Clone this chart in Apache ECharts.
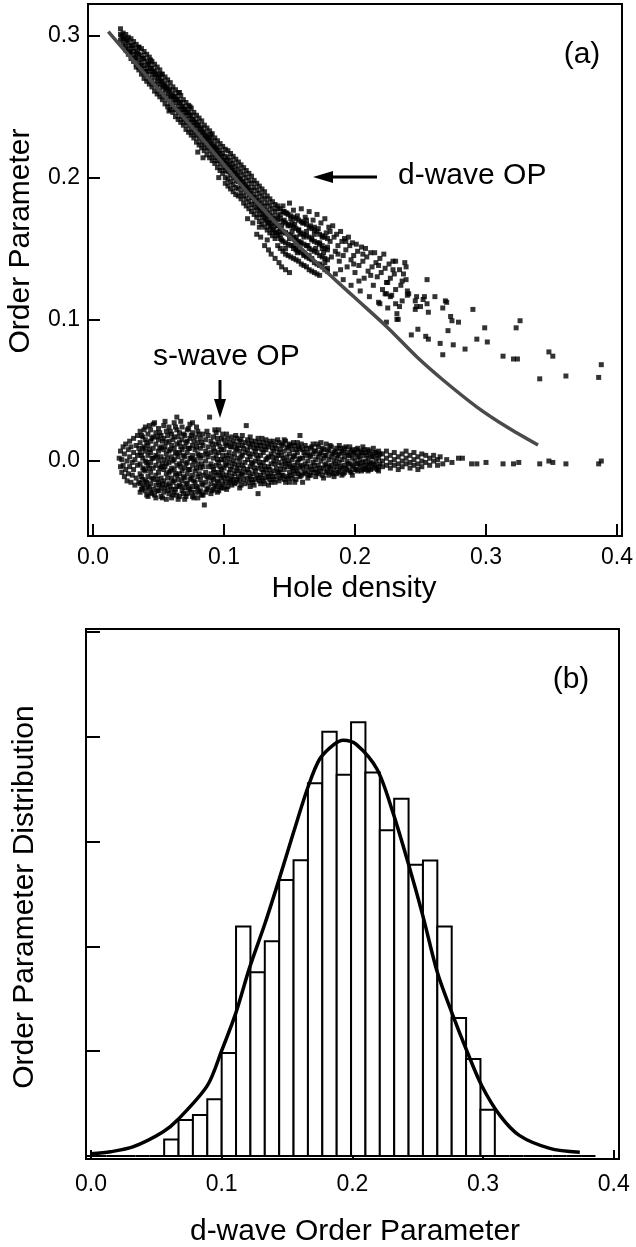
<!DOCTYPE html>
<html><head><meta charset="utf-8">
<script src="https://cdn.jsdelivr.net/npm/echarts@6/dist/echarts.min.js"></script>
<style>html,body{margin:0;padding:0;background:#fff}#c{width:636px;height:1247px}</style>
</head><body><div id="c"></div>
<script>
// ---------- Panel (a) data ----------
const xTicksA = [0, 0.1, 0.2, 0.3, 0.4];
const yTicksA = [0, 0.1, 0.2, 0.3];
// dense part of the d-wave band, read column by column: [x, [y values]]
const dwaveCols = [
[.021,[.305,.301,.297]],[.023,[.302,.298,.294]],[.025,[.301,.297,.293,.290]],[.027,[.299,.295,.291,.287]],[.029,[.298,.293,.289,.284]],[.031,[.296,.291,.287,.282]],[.033,[.294,.289,.285,.280,.278]],[.035,[.292,.287,.283,.278,.276]],[.037,[.291,.286,.281,.277,.273]],[.039,[.289,.284,.279,.274,.270]],
[.041,[.287,.282,.277,.273,.268]],[.043,[.285,.280,.275,.270,.266]],[.045,[.282,.277,.273,.268,.264]],[.047,[.280,.275,.271,.266,.261]],[.049,[.278,.273,.268,.264,.259]],[.051,[.276,.271,.266,.261,.257]],[.053,[.273,.268,.264,.259,.255]],[.055,[.271,.266,.262,.257,.252]],[.057,[.269,.264,.259,.255,.250]],[.059,[.267,.262,.257,.252,.248]],
[.061,[.264,.259,.255,.250,.246]],[.063,[.262,.257,.253,.248,.243]],[.065,[.260,.255,.250,.246,.241]],[.067,[.258,.253,.248,.243,.239]],[.069,[.255,.250,.246,.241,.237]],[.071,[.253,.248,.244,.239,.234]],[.073,[.251,.246,.241,.237,.232]],[.075,[.249,.244,.239,.234,.230]],[.077,[.246,.241,.237,.232,.228]],[.079,[.244,.239,.235,.230,.225]],
[.081,[.242,.237,.232,.228,.223]],[.083,[.240,.235,.230,.225,.221]],[.085,[.237,.232,.228,.223,.219]],[.087,[.235,.230,.226,.221,.216]],[.089,[.233,.228,.223,.219,.214]],[.091,[.231,.226,.221,.216,.212]],[.093,[.228,.223,.219,.214,.210]],[.095,[.226,.221,.217,.212,.207]],[.097,[.224,.219,.214,.210,.205]],[.099,[.222,.217,.212,.207,.203]],
[.101,[.220,.215,.210,.205,.200,.196]],[.103,[.219,.214,.209,.204,.199,.194]],[.105,[.217,.212,.207,.202,.197,.192]],[.107,[.215,.210,.205,.200,.195,.190]],[.109,[.213,.208,.203,.198,.193,.188]],[.111,[.211,.206,.201,.197,.192,.187]],[.113,[.209,.204,.199,.194,.189,.185]],[.115,[.207,.202,.197,.192,.187,.182]],[.117,[.205,.200,.195,.190,.185,.180]],[.119,[.203,.198,.193,.188,.183,.178]],
[.121,[.201,.196,.191,.186,.181,.176]],[.123,[.198,.193,.188,.184,.179,.174]],[.125,[.196,.191,.186,.182,.177,.172]],[.127,[.194,.189,.184,.179,.174,.169]],[.129,[.192,.187,.182,.177,.172,.167]],[.131,[.190,.185,.180,.175,.170,.165]],[.133,[.187,.182,.177,.173,.168,.163]],[.135,[.185,.180,.175,.170,.165,.161]],[.137,[.183,.178,.173,.168,.163,.159]],[.139,[.181,.176,.171,.166,.161,.157]],
[.141,[.180,.173,.166,.159,.152]],[.143,[.178,.171,.164,.157,.150]],[.145,[.176,.169,.162,.155,.148]],[.147,[.175,.168,.161,.154,.146]],[.149,[.174,.167,.160,.153,.145]],[.151,[.173,.166,.159,.152,.144]],[.153,[.172,.165,.158,.150,.143]],[.155,[.171,.164,.156,.149,.142]],[.157,[.170,.163,.155,.148,.141]],[.159,[.169,.161,.154,.147,.139]],
[.161,[.168,.160,.153,.145,.138]],[.163,[.167,.159,.152,.144,.137]],[.165,[.165,.158,.150,.143,.135]],[.167,[.164,.157,.149,.142,.134]],[.169,[.163,.155,.148,.140,.133]],[.171,[.162,.154,.147,.139,.132]],[.173,[.160,.153,.145,.138,.131]],[.175,[.159,.152,.144,.137]],[.177,[.158,.150,.143,.135]],[.179,[.157,.149,.142,.134]]
];
// individually read d-wave points (band interior, spread and sparse tail)
const dwavePts = [
[.022,.300],[.024,.298],[.026,.297],[.028,.288],[.030,.293],[.032,.284],[.034,.288],[.036,.279],[.038,.284],[.040,.275],[.042,.280],[.044,.277],[.046,.275],[.048,.273],[.050,.270],[.052,.268],[.054,.265],[.056,.263],[.058,.261],[.060,.258],
[.035,.292],[.044,.283],[.052,.273],[.058,.247],[.066,.260],[.074,.250],[.080,.218],[.084,.214],[.090,.230],[.096,.200],
[.062,.257],[.064,.255],[.066,.253],[.068,.250],[.070,.248],[.072,.246],[.074,.244],[.076,.241],[.078,.239],[.080,.237],[.082,.234],[.084,.232],[.086,.229],[.088,.227],[.090,.224],[.092,.222],[.094,.220],[.096,.217],[.098,.215],[.100,.212],
[.102,.212],[.104,.209],[.106,.207],[.108,.204],[.110,.202],[.112,.199],[.114,.197],[.116,.194],[.118,.192],[.120,.189],[.122,.186],[.124,.183],[.126,.180],[.128,.177],[.130,.174],[.132,.171],[.134,.168],[.136,.166],[.138,.163],[.140,.161],
[.118,.171],[.122,.168],[.125,.160],[.128,.158],[.131,.152],[.134,.149],[.136,.146],[.139,.143],[.142,.140],[.144,.137],[.147,.135],[.150,.133],[.127,.165],[.133,.156],
[.141,.170],[.141,.178],[.142,.162],[.143,.174],[.144,.166],[.144,.156],[.145,.180],[.146,.170],[.147,.161],[.147,.150],[.148,.175],[.149,.166],[.150,.157],[.150,.182],[.151,.171],[.152,.162],[.153,.152],[.153,.177],[.154,.167],[.155,.158],[.156,.147],[.156,.173],[.157,.163],[.158,.154],[.159,.178],[.160,.168],[.161,.158],[.161,.146],[.162,.172],[.163,.162],[.164,.152],[.165,.176],[.166,.166],[.167,.156],[.167,.143],[.168,.170],[.169,.160],[.170,.150],[.171,.174],[.172,.164],[.173,.154],[.173,.139],[.174,.168],[.175,.158],[.176,.147],[.177,.171],[.178,.161],[.179,.151],[.179,.136],[.180,.165],[.181,.155],[.182,.144],[.183,.166],[.184,.158],[.185,.148],[.185,.132],[.186,.160],[.187,.152],[.188,.141],[.189,.162],[.190,.155],[.191,.145],[.191,.128],[.192,.157],[.193,.149],[.194,.137],[.195,.158],[.196,.152],[.197,.142],[.197,.124],[.198,.154],[.199,.145],[.200,.133],[.201,.153],[.202,.148],[.203,.138],[.204,.120],[.205,.151],[.206,.141],[.207,.129],[.208,.150],[.209,.144],[.210,.134],[.211,.116],[.212,.147],[.213,.137],[.214,.124],[.215,.147],[.216,.140],[.217,.130],[.218,.112],[.219,.143],[.220,.133],[.221,.121],[.222,.146],[.223,.136],[.224,.126],[.225,.108],[.226,.139],[.227,.129],[.228,.117],[.229,.141],[.230,.132],[.231,.121],[.232,.104],[.234,.135],[.235,.124],[.236,.113],[.238,.140],[.239,.128],[.240,.117],
[.146,.176],[.152,.168],[.158,.160],[.163,.170],[.169,.165],[.175,.150],[.181,.162],[.187,.146],[.193,.155],[.199,.139],[.206,.146],[.212,.131],[.218,.138],[.224,.118],[.229,.135],[.236,.127],[.143,.160],[.155,.150],[.165,.145],[.177,.140],[.189,.135],[.203,.127],
[.231,.141],[.239,.137],[.255,.128],[.237,.132],[.247,.116],[.253,.116],[.261,.116],[.269,.113],[.246,.107],[.250,.109],[.256,.105],[.267,.108],[.273,.102],[.274,.099],[.290,.107],[.279,.098],[.271,.092],[.299,.094],[.326,.099],[.323,.094],[.293,.086],[.301,.084],[.284,.079],[.275,.082],[.265,.083],[.267,.075],[.254,.088],[.256,.086],[.248,.093],[.243,.089],[.313,.074],[.321,.072],[.324,.072],[.348,.077],[.351,.074],[.341,.058],[.361,.060],[.388,.068],[.386,.059],[.232,.100],[.233,.100],[.224,.098],[.231,.111],[.234,.109],[.223,.118],[.227,.116],[.219,.111],[.240,.120],[.241,.118],[.225,.126],[.246,.113],[.252,.114],[.255,.111],[.247,.109],[.270,.112]
];
const swaveCols = [
[.020,[.002]],[.021,[-.004,.007]],[.022,[-.008,.001]],[.023,[.010,-.003]],[.024,[-.011,.005]],[.025,[.012,-.006]],[.026,[.000,-.014]],[.027,[.008,-.009]],[.028,[.014,.003,-.004]],[.029,[-.015,.010]],[.030,[-.001,-.010]],[.031,[.016,.006,-.006]],[.032,[-.017,.001]],[.033,[.011,-.012]],[.034,[.018,.004,-.003]],[.035,[-.015,.009]],
[.036,[.021,.013,.006,-.002,-.009,-.016,-.022]],[.038,[.017,.009,.002,-.005,-.013,-.019]],[.040,[.024,.015,.007,.000,-.007,-.014,-.021]],[.042,[.019,.011,.004,-.003,-.011,-.018,-.025]],[.044,[.022,.014,.006,-.001,-.008,-.016,-.022]],[.046,[.026,.017,.009,.002,-.005,-.013,-.020]],[.047,[.027,-.024]],[.048,[.020,.012,.004,-.003,-.010,-.017,-.026]],[.050,[.023,.015,.007,.000,-.008,-.015,-.021]],[.052,[.018,.010,.003,-.004,-.012,-.019,-.025]],[.054,[.025,.016,.008,.001,-.006,-.014,-.022]],[.056,[.021,.013,.005,-.002,-.009,-.017,-.027]],[.058,[.024,.014,.007,-.001,-.008,-.016,-.023]],[.060,[.019,.011,.003,-.005,-.012,-.020,-.026]],[.062,[.027,.017,.009,.001,-.006,-.014,-.022]],[.064,[.031,.022,.012,.005,-.003,-.010,-.018,-.024]],[.066,[.020,.013,.006,-.002,-.009,-.017,-.025]],[.068,[.024,.015,.008,.000,-.007,-.014,-.021]],[.070,[.018,.010,.003,-.005,-.012,-.019,-.027]],[.072,[.022,.014,.006,-.001,-.009,-.016,-.023]],[.074,[.026,.016,.009,.002,-.006,-.013,-.020]],[.076,[.027,.020,.011,.004,-.003,-.010,-.018,-.025]],[.078,[.017,.008,.001,-.007,-.015,-.022]],[.080,[.021,.013,.005,-.002,-.011,-.019,-.026]],[.082,[.016,.009,.002,-.005,-.013,-.021]],[.084,[.019,.011,.004,-.004,-.010,-.017,-.024]],[.085,[-.031]],[.086,[.015,.007,.000,-.008,-.015,-.022]],[.088,[.018,.010,.003,-.004,-.012,-.019]],[.089,[.031]],[.090,[.014,.006,-.002,-.009,-.016,-.023]],[.092,[.017,.009,.002,-.006,-.013,-.020]],[.094,[.020,.012,.004,-.003,-.010,-.018]],[.096,[.022,.013,.006,-.001,-.008,-.015,-.021]],[.098,[.016,.008,.001,-.006,-.012,-.019]],
[.037,[.018,.004,-.011,-.020]],[.039,[.022,.010,-.006,-.017]],[.041,[.013,-.001,-.015,-.024]],[.043,[.025,.008,-.005,-.019]],[.045,[.016,.002,-.012,-.023]],[.049,[.017,.003,-.013,-.021]],[.051,[.020,.009,-.005,-.017]],[.053,[.014,-.002,-.016,-.026]],[.055,[.028,.010,-.004,-.019]],[.057,[.018,.002,-.012,-.021]],[.059,[.021,.008,-.007,-.018]],[.061,[.015,.000,-.015,-.024]],[.063,[.024,.006,-.009,-.020]],[.065,[.017,.003,-.013,-.027]],[.067,[.028,.010,-.004,-.018]],[.069,[.019,.004,-.011,-.023]],[.071,[.013,-.002,-.016,-.025]],[.073,[.023,.009,-.006,-.019]],[.075,[.018,.002,-.012,-.022]],[.077,[.014,.000,-.014,-.026]],[.079,[.024,.010,-.005,-.018]],[.081,[.019,.004,-.009,-.022]],[.083,[.013,-.002,-.016,-.024]],[.087,[.021,.005,-.011,-.020]],[.091,[.012,-.004,-.012,-.021]],[.093,[.022,.007,-.008,-.017]],[.095,[.016,.001,-.014,-.022]],[.097,[.010,-.004,-.010,-.018]],[.099,[.019,.004,-.009,-.016]],
[.100,[.015,.008,.001,-.005,-.012,-.019]],[.102,[.019,.011,.004,-.003,-.010,-.020]],[.104,[.013,.006,-.001,-.008,-.015]],[.106,[.017,.010,.003,-.004,-.011,-.017]],[.108,[.012,.005,-.002,-.009,-.016]],[.110,[.016,.009,.002,-.005,-.013]],[.112,[.014,.007,.000,-.007,-.014,-.019]],[.114,[.018,.011,.004,-.003,-.010]],[.116,[.013,.006,-.001,-.008,-.016]],[.117,[.025]],[.118,[.015,.008,.001,-.006,-.012]],[.120,[.017,.010,.003,-.004,-.011,-.018]],[.122,[.012,.005,-.002,-.009,-.015]],[.124,[.014,.007,.000,-.007,-.013]],[.126,[.016,.009,.002,-.005,-.012,-.023]],[.128,[.011,.004,-.003,-.010,-.016]],[.130,[.013,.006,-.001,-.008,-.014]],[.132,[.015,.008,.001,-.006,-.012]],[.134,[.010,.003,-.004,-.011,-.017]],[.136,[.012,.005,-.002,-.009,-.015]],[.138,[.014,.007,.000,-.007,-.013]],[.140,[.009,.002,-.005,-.011]],[.142,[.013,.006,-.001,-.008,-.014]],[.144,[.011,.004,-.003,-.010]],[.146,[.015,.007,.000,-.006,-.013]],[.148,[.010,.003,-.004,-.011]],[.150,[.012,.005,-.002,-.008,-.015]],[.152,[.008,.001,-.005,-.012]],[.154,[.011,.004,-.003,-.009,-.015]],[.156,[.013,.006,-.001,-.007]],[.158,[.018,.009,.002,-.004,-.011]],
[.101,[.012,-.002,-.015]],[.103,[.016,.002,-.012,-.018]],[.105,[.010,-.006,-.014]],[.107,[.014,.000,-.013]],[.109,[.018,.008,-.007,-.015]],[.111,[.011,-.003,-.011]],[.113,[.015,.003,-.009,-.017]],[.115,[.009,-.005,-.013]],[.119,[.012,.005,-.008,-.015]],[.121,[.014,-.001,-.013]],[.123,[.009,-.005,-.017]],[.125,[.011,.004,-.010]],[.127,[.013,-.001,-.014]],[.129,[.016,.008,-.006,-.012]],[.131,[.010,-.004,-.016]],[.133,[.012,.002,-.009]],[.135,[.014,-.006,-.013]],[.137,[.009,.003,-.011]],[.139,[.011,-.002,-.015]],[.141,[.015,.004,-.008]],[.143,[.008,-.006,-.012]],[.145,[.012,.002,-.010]],[.147,[.014,-.002,-.015]],[.149,[.009,.000,-.012]],[.151,[.011,-.004,-.010]],[.153,[.013,.003,-.007]],[.155,[.008,-.005,-.013]],[.157,[.010,.001,-.009]],[.159,[.012,-.003,-.010]],
[.160,[.008,.002,-.005,-.015]],[.162,[.011,.004,-.002,-.009]],[.164,[.006,.000,-.007,-.012]],[.166,[.009,.003,-.004,-.010]],[.168,[.012,.005,-.001,-.008]],[.170,[.007,.001,-.006,-.011]],[.172,[.010,.003,-.003,-.009]],[.174,[.013,.006,.000,-.007]],[.176,[.008,.002,-.005,-.012]],[.178,[.012,.004,-.002,-.008]],[.180,[.007,.001,-.004,-.010]],[.182,[.010,.003,-.003,-.008]],[.184,[.006,.000,-.006,-.011]],[.186,[.009,.002,-.004,-.009]],[.188,[.011,.005,-.001,-.007]],[.190,[.007,.001,-.005,-.010]],[.192,[.009,.003,-.003,-.008]],[.194,[.006,.000,-.006]],[.196,[.010,.004,-.002,-.007]],[.198,[.008,.002,-.004,-.010]],[.200,[.006,.000,-.006]],[.202,[.009,.003,-.002,-.007]],[.204,[.007,.001,-.004]],[.206,[.010,.004,-.001,-.006]],[.208,[.006,.000,-.005]],[.210,[.008,.002,-.003,-.007]],[.212,[.005,-.001,-.006]],[.214,[.009,.003,-.002]],[.216,[.006,.000,-.005]],[.218,[.007,.002,-.004,-.007]],
[.161,[.006,-.008]],[.163,[.009,-.004]],[.165,[.004,-.010]],[.167,[.010,-.006]],[.169,[.007,-.003]],[.171,[.012,-.008]],[.173,[.005,-.005]],[.175,[.009,-.010]],[.177,[.004,-.003]],[.179,[.008,-.007]],[.181,[.011,-.005]],[.183,[.005,-.009]],[.185,[.007,-.002]],[.187,[.004,-.008]],[.189,[.009,-.004]],[.191,[.006,-.009]],[.193,[.010,-.005]],[.195,[.004,-.002]],[.197,[.007,-.008]],[.199,[.005,-.003]],[.201,[.008,-.006]],[.203,[.004,-.002]],[.205,[.006,-.007]],[.207,[.008,-.003]],[.209,[.004,-.006]],[.211,[.007,-.002]],[.213,[.003,-.005]],[.215,[.006,-.003]],[.217,[.004,-.006]],[.219,[.005,-.002]],
[.221,[.005,.000,-.004]],[.224,[.007,.002,-.003]],[.227,[.004,-.001,-.005]],[.230,[.006,.001,-.003]],[.233,[.003,-.002,-.006]],[.236,[.005,.000,-.004]],[.239,[.007,.002,-.002]],[.242,[.004,-.001,-.005]],[.245,[.006,.001,-.003]],[.248,[.003,-.002,-.006]],[.251,[.005,.000,-.004]],[.254,[.004,-.001]],[.257,[.002,-.003]],[.260,[.004,.000]],[.263,[.001,-.003]],
[.265,[.003]],[.267,[-.002]],[.270,[.001]],[.274,[-.001]],[.279,[.002]],[.282,[.002]],[.289,[-.002]],[.293,[-.002]],[.300,[-.001]],[.313,[-.002]],[.321,[-.002]],[.325,[-.001]],[.341,[-.002]],[.348,[.000]],[.351,[-.001]],[.361,[-.002]],[.386,[-.002]],[.388,[.000]]
];
const fitCurveX = [0.0117, 0.0282, 0.0511, 0.0817, 0.1198, 0.158, 0.1985, 0.2244, 0.2473, 0.2672, 0.2931, 0.316, 0.3397];
const fitCurveY = [0.303, 0.2853, 0.2611, 0.2293, 0.1877, 0.151, 0.1164, 0.0946, 0.0734, 0.0572, 0.0381, 0.024, 0.0113];

// ---------- Panel (b) data ----------
const xTicksB = [0, 0.1, 0.2, 0.3, 0.4];
const yTicksB = [0, 1, 2, 3, 4, 5];
const histEdges = [0.001,0.012,0.023,0.034,0.045,0.056,0.067,0.078,0.089,0.100,0.111,0.122,0.133,0.144,0.155,0.166,0.177,0.188,0.199,0.210,0.221,0.232,0.243,0.254,0.265,0.276,0.287,0.298,0.309,0.320,0.331,0.342,0.353,0.364,0.375,0.386];
const histCounts = [0,0,0,0,0,0.156,0.344,0.391,0.541,0.983,2.19,1.753,2.049,2.634,2.824,3.559,4.05,3.64,4.14,3.66,3.11,3.41,2.78,2.82,2.19,1.317,0.926,0.442,0,0,0,0,0,0,0];
const gaussX = [0.0, 0.015, 0.032, 0.055, 0.067, 0.089, 0.100, 0.111, 0.121, 0.133, 0.144, 0.155, 0.166, 0.175, 0.186, 0.193, 0.203, 0.219, 0.231, 0.244, 0.254, 0.265, 0.276, 0.288, 0.299, 0.313, 0.328, 0.351, 0.374];
const gaussY = [0.02, 0.04, 0.086, 0.229, 0.353, 0.671, 1.005, 1.371, 1.784, 2.214, 2.643, 3.09, 3.52, 3.79, 3.93, 3.97, 3.93, 3.69, 3.28, 2.74, 2.29, 1.753, 1.371, 0.99, 0.671, 0.385, 0.194, 0.073, 0.035];

const flatCols = cols => cols.flatMap(([x, ys]) => ys.map(y => [x, y]));
const dwave = flatCols(dwaveCols).concat(dwavePts);
const swave = flatCols(swaveCols);
const fitCurve = fitCurveX.map((x, i) => [x, fitCurveY[i]]);
const gauss = gaussX.map((x, i) => [x, gaussY[i]]);
const hist = histCounts.map((c, i) => [histEdges[i], histEdges[i + 1], c]);

const FONT = 'Liberation Sans, Arial, Helvetica, sans-serif';
const fmt = v => v.toFixed(1);

function xAxisCfg(grid, min, max, ticks, tickLen, margin) {
  return {
    gridIndex: grid, type: 'value', min, max,
    axisLine: { show: true, onZero: false, lineStyle: { color: '#000', width: 2 } },
    axisTick: { show: true, inside: true, length: tickLen, customValues: ticks, lineStyle: { color: '#000', width: 2 } },
    axisLabel: { show: true, customValues: ticks, formatter: fmt, fontSize: 23, color: '#000', fontFamily: FONT, margin },
    splitLine: { show: false }
  };
}

const chart = echarts.init(document.getElementById('c'), null, { renderer: 'canvas' });
chart.setOption({
  animation: false,
  backgroundColor: '#fff',
  textStyle: { fontFamily: FONT },
  grid: [
    { left: 88, top: 4, width: 534, height: 532, show: true, borderColor: '#000', borderWidth: 2, backgroundColor: 'transparent' },
    { left: 86, top: 629, width: 533, height: 530, show: true, borderColor: '#000', borderWidth: 2, backgroundColor: 'transparent' }
  ],
  xAxis: [
    xAxisCfg(0, -0.0038, 0.4038, xTicksA, 12, 10),
    xAxisCfg(1, -0.0038, 0.404, xTicksB, 9, 14)
  ],
  yAxis: [
    {
      gridIndex: 0, type: 'value', min: -0.0529, max: 0.3225,
      axisLine: { show: true, onZero: false, lineStyle: { color: '#000', width: 2 } },
      axisTick: { show: true, inside: true, length: 12, customValues: yTicksA, lineStyle: { color: '#000', width: 2 } },
      axisLabel: { customValues: yTicksA, formatter: fmt, fontSize: 23, color: '#000', fontFamily: FONT, margin: 8 },
      splitLine: { show: false }
    },
    {
      gridIndex: 1, type: 'value', min: -0.029, max: 5.031,
      axisLine: { show: true, onZero: false, lineStyle: { color: '#000', width: 2 } },
      axisTick: { show: true, inside: true, length: 14, customValues: yTicksB, lineStyle: { color: '#000', width: 2 } },
      axisLabel: { show: false },
      splitLine: { show: false }
    }
  ],
  series: [
    { type: 'scatter', xAxisIndex: 0, yAxisIndex: 0, data: dwave, symbol: 'rect', symbolSize: 5, itemStyle: { color: '#000' }, z: 2 },
    { type: 'scatter', xAxisIndex: 0, yAxisIndex: 0, data: swave, symbol: 'rect', symbolSize: 5, itemStyle: { color: '#000' }, z: 2 },
    { type: 'line', xAxisIndex: 0, yAxisIndex: 0, data: fitCurve, smooth: 0.3, showSymbol: false, lineStyle: { color: '#4a4a4a', width: 3.5 }, z: 3 },
    {
      type: 'custom', xAxisIndex: 1, yAxisIndex: 1, data: hist, z: 2,
      encode: { x: [0, 1], y: 2 },
      renderItem: (params, api) => {
        const p0 = api.coord([api.value(0), 0]);
        const p1 = api.coord([api.value(1), api.value(2)]);
        return { type: 'rect', shape: { x: p0[0], y: p1[1], width: p1[0] - p0[0], height: p0[1] - p1[1] },
                 style: { fill: '#fff', stroke: '#000', lineWidth: 2 } };
      }
    },
    { type: 'line', xAxisIndex: 1, yAxisIndex: 1, data: gauss, smooth: 0.3, showSymbol: false, lineStyle: { color: '#000', width: 3.5 }, z: 4 }
  ],
  graphic: [
    { type: 'text', x: 21, y: 241, rotation: Math.PI / 2, style: { text: 'Order Parameter', font: '30px ' + FONT, fill: '#000', align: 'center', verticalAlign: 'middle' } },
    { type: 'text', x: 354, y: 589, style: { text: 'Hole density', font: '30px ' + FONT, fill: '#000', align: 'center', verticalAlign: 'middle' } },
    { type: 'text', x: 582, y: 55, style: { text: '(a)', font: '30px ' + FONT, fill: '#000', align: 'center', verticalAlign: 'middle' } },
    { type: 'text', x: 398, y: 176, style: { text: 'd-wave OP', font: '30px ' + FONT, fill: '#000', align: 'left', verticalAlign: 'middle' } },
    { type: 'text', x: 153, y: 357, style: { text: 's-wave OP', font: '30px ' + FONT, fill: '#000', align: 'left', verticalAlign: 'middle' } },
    { type: 'line', shape: { x1: 330, y1: 177, x2: 377, y2: 177 }, style: { stroke: '#000', lineWidth: 3 } },
    { type: 'polygon', shape: { points: [[313, 177], [333, 171], [333, 183]] }, style: { fill: '#000' } },
    { type: 'line', shape: { x1: 220, y1: 380, x2: 220, y2: 402 }, style: { stroke: '#000', lineWidth: 3 } },
    { type: 'polygon', shape: { points: [[220, 418], [214, 399], [226, 399]] }, style: { fill: '#000' } },
    { type: 'text', x: 25, y: 897, rotation: Math.PI / 2, style: { text: 'Order Parameter Distribution', font: '30px ' + FONT, fill: '#000', align: 'center', verticalAlign: 'middle' } },
    { type: 'text', x: 571, y: 680, style: { text: '(b)', font: '30px ' + FONT, fill: '#000', align: 'center', verticalAlign: 'middle' } },
    { type: 'text', x: 355, y: 1232, style: { text: 'd-wave Order Parameter', font: '30px ' + FONT, fill: '#000', align: 'center', verticalAlign: 'middle' } }
  ]
});
</script></body></html>
